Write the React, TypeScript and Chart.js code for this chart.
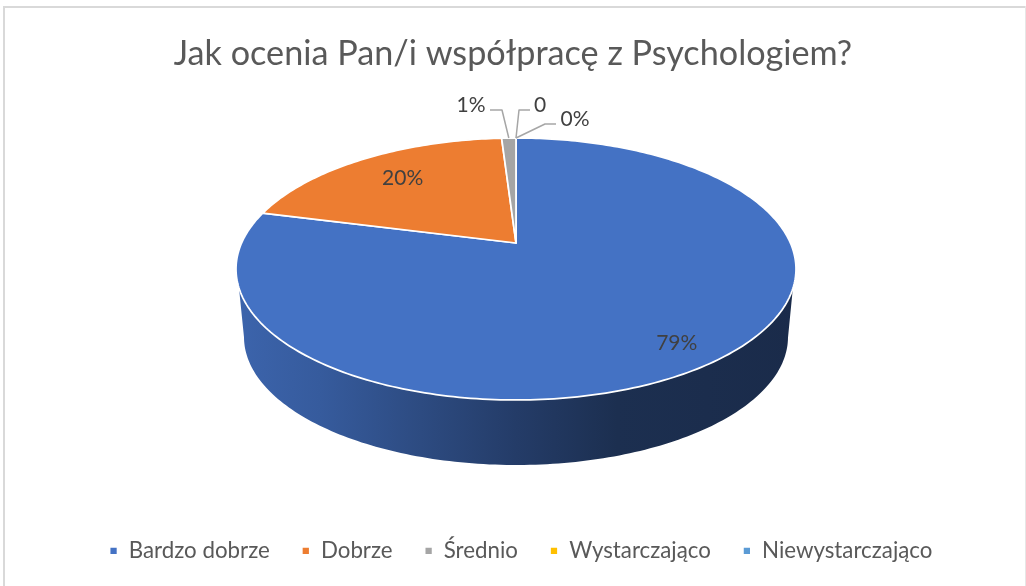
import React, { useEffect, useRef } from "react";
import { Chart, registerables } from "chart.js";

Chart.register(...registerables);

const TITLE = "Jak ocenia Pan/i współpracę z Psychologiem?";
const categories = ["Bardzo dobrze", "Dobrze", "Średnio", "Wystarczająco", "Niewystarczająco"];
const values = [79, 20, 1, 0, 0];
const valueLabels = ["79%", "20%", "1%", "0", "0%"];
const colors = ["#4472C4", "#ED7D31", "#A5A5A5", "#FFC000", "#5B9BD5"];

// Projection of the pie disc on the page (perspective view of a circle).
const TOP = { cx: 516, cy: 269, rx: 280, ry: 131 };
const BOTTOM = { cx: 516, cy: 337, rx: 272, ry: 128 };
const APEX_SHIFT = -26 / 131;

const project = (a: number, r = 1) => {
  const u = r * Math.cos(a);
  const v = r * Math.sin(a);
  const d = APEX_SHIFT;
  const w = 1 + d * v;
  return { U: (u * Math.sqrt(1 - d * d)) / w, V: (v + d) / w };
};
const toPage = (e: typeof TOP, p: { U: number; V: number }) => ({
  x: e.cx + e.rx * p.U,
  y: e.cy + e.ry * p.V,
});

const samples = (start: number, end: number) => {
  const n = Math.max(2, Math.ceil(((end - start) / (2 * Math.PI)) * 360));
  const out: number[] = [];
  for (let i = 0; i <= n; i++) out.push(start + ((end - start) * i) / n);
  return out;
};

const shade = (hex: string, f: number) => {
  const n = parseInt(hex.slice(1), 16);
  const c = (s: number) => Math.round(((n >> s) & 255) * f);
  return `rgb(${c(16)},${c(8)},${c(0)})`;
};

const RIM_STOPS: [number, number][] = [
  [0, 0.88],
  [0.15, 0.8],
  [0.33, 0.66],
  [0.5, 0.53],
  [0.68, 0.41],
  [1, 0.38],
];

const INSIDE = [
  { r: 0.84, dx: -2, dy: 4 },
  { r: 0.74, dx: 3, dy: 0 },
];
const LEADERS = [
  null,
  null,
  { elbow: [502, 110], end: [490, 110], text: [471, 105] },
  { elbow: [519, 110], end: [530, 110], text: [540, 105] },
  { elbow: [545, 124], end: [556, 124], text: [575, 119] },
];

const piePlugin = {
  id: "perspectivePie",
  afterLayout(chart: any) {
    if (chart.legend) {
      chart.legend.left += 8;
      chart.legend.right += 8;
    }
  },
  beforeDraw(chart: any) {
    const { ctx } = chart;
    ctx.save();
    ctx.fillStyle = "#D9D9D9";
    ctx.fillRect(3, 6, 2, 580);
    ctx.fillRect(3, 6, 1023, 2);
    ctx.fillStyle = "#E6E6E6";
    ctx.fillRect(1025, 6, 1, 580);
    ctx.restore();
  },
  beforeDatasetsDraw(chart: any) {
    const { ctx } = chart;
    const arcs = chart.getDatasetMeta(0).data;
    ctx.save();

    // side wall
    arcs.forEach((arc: any) => {
      if (arc.endAngle - arc.startAngle <= 0) return;
      const angles = samples(arc.startAngle, arc.endAngle);
      const upper = angles.map((a) => project(a)).filter((p) => p.V >= 0.145).map((p) => toPage(TOP, p));
      const lower = angles.map((a) => project(a)).filter((p) => p.V >= 0).map((p) => toPage(BOTTOM, p));
      if (!upper.length) return;
      const g = ctx.createLinearGradient(TOP.cx - TOP.rx, 0, TOP.cx + TOP.rx, 0);
      RIM_STOPS.forEach(([o, f]) => g.addColorStop(o, shade(arc.options.backgroundColor, f)));
      ctx.fillStyle = g;
      ctx.beginPath();
      upper.forEach((p, i) => (i ? ctx.lineTo(p.x, p.y) : ctx.moveTo(p.x, p.y)));
      lower.reverse().forEach((p) => ctx.lineTo(p.x, p.y));
      ctx.closePath();
      ctx.fill();
    });

    // top face
    const apex = toPage(TOP, project(0, 0));
    arcs.forEach((arc: any) => {
      if (arc.endAngle - arc.startAngle <= 0) return;
      ctx.beginPath();
      ctx.moveTo(apex.x, apex.y);
      samples(arc.startAngle, arc.endAngle).forEach((a) => {
        const p = toPage(TOP, project(a));
        ctx.lineTo(p.x, p.y);
      });
      ctx.closePath();
      ctx.fillStyle = arc.options.backgroundColor;
      ctx.fill();
      ctx.strokeStyle = arc.options.borderColor;
      ctx.lineWidth = arc.options.borderWidth;
      ctx.lineJoin = "round";
      ctx.stroke();
    });

    // value labels
    ctx.font = "21px Lato";
    ctx.textAlign = "center";
    ctx.textBaseline = "middle";
    arcs.forEach((arc: any, i: number) => {
      const mid = (arc.startAngle + arc.endAngle) / 2;
      const leader = LEADERS[i];
      ctx.fillStyle = "#404040";
      if (leader) {
        const from = toPage(TOP, project(mid));
        ctx.strokeStyle = "#A6A6A6";
        ctx.lineWidth = 1.5;
        ctx.beginPath();
        ctx.moveTo(from.x, from.y);
        ctx.lineTo(leader.elbow[0], leader.elbow[1]);
        ctx.lineTo(leader.end[0], leader.end[1]);
        ctx.stroke();
        ctx.fillText(valueLabels[i], leader.text[0], leader.text[1]);
      } else {
        const p = toPage(TOP, project(mid, INSIDE[i].r));
        ctx.fillText(valueLabels[i], p.x + INSIDE[i].dx, p.y + INSIDE[i].dy);
      }
    });
    ctx.restore();
    return false;
  },
};

export default function App() {
  const ref = useRef<HTMLCanvasElement>(null);
  useEffect(() => {
    document.body.style.margin = "0";
    document.body.style.background = "#ffffff";
    const chart = new Chart(ref.current!, {
      type: "pie",
      data: {
        labels: categories,
        datasets: [
          {
            data: values,
            backgroundColor: colors,
            borderColor: "#ffffff",
            borderWidth: 1.75,
          },
        ],
      },
      options: {
        responsive: false,
        animation: false,
        layout: { padding: { bottom: 14 } },
        plugins: {
          title: {
            display: true,
            text: TITLE,
            color: "#595959",
            font: { family: "Lato", size: 34.2, weight: "normal" },
            padding: { top: 33, bottom: 10 },
          },
          legend: {
            position: "bottom",
            labels: {
              color: "#595959",
              font: { family: "Lato", size: 22.3 },
              boxWidth: 8,
              boxHeight: 8,
              padding: 32,
            },
          },
          tooltip: { enabled: false },
        },
      },
      plugins: [piePlugin],
    } as any);
    return () => chart.destroy();
  }, []);
  return (
    <div style={{ width: 1026, height: 586, overflow: "hidden" }}>
      <canvas ref={ref} width={1026} height={586} style={{ display: "block" }} />
    </div>
  );
}
